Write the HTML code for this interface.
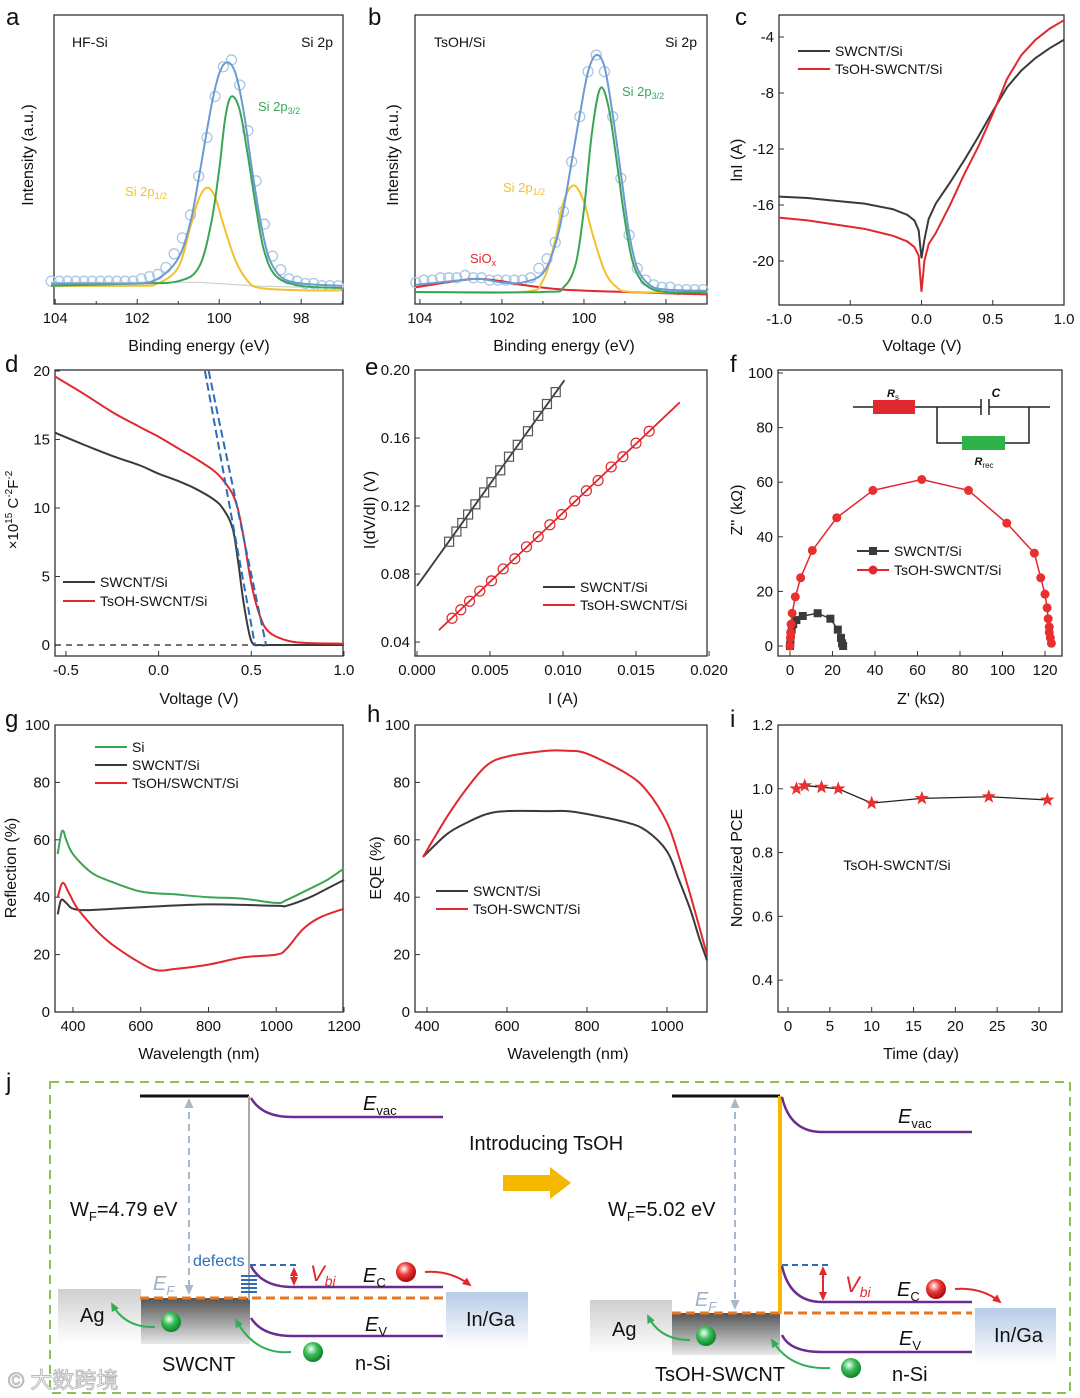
<!DOCTYPE html>
<html><head><meta charset="utf-8"><style>
body{margin:0;background:#fff}
svg{display:block;font-family:"Liberation Sans","Noto Sans CJK SC",sans-serif}
</style></head><body>
<svg id="fig" xmlns="http://www.w3.org/2000/svg" width="1080" height="1398" viewBox="0 0 1080 1398">
<defs>
<linearGradient id="agG" x1="0" y1="0" x2="0" y2="1"><stop offset="0" stop-color="#cfcfcf"/><stop offset="1" stop-color="#ffffff"/></linearGradient>
<linearGradient id="cnG" x1="0" y1="0" x2="0" y2="1"><stop offset="0" stop-color="#555"/><stop offset="1" stop-color="#e8e8e8"/></linearGradient>
<linearGradient id="igG" x1="0" y1="0" x2="0" y2="1"><stop offset="0" stop-color="#b8cce6"/><stop offset="1" stop-color="#ffffff"/></linearGradient>
<radialGradient id="rb" cx="0.4" cy="0.35" r="0.6"><stop offset="0" stop-color="#fff"/><stop offset="0.5" stop-color="#ef3b3b"/><stop offset="1" stop-color="#b01010"/></radialGradient>
<radialGradient id="gb" cx="0.4" cy="0.35" r="0.6"><stop offset="0" stop-color="#fff"/><stop offset="0.5" stop-color="#3cbf5a"/><stop offset="1" stop-color="#138a30"/></radialGradient>
<marker id="ahR" markerUnits="userSpaceOnUse" markerWidth="9" markerHeight="8" refX="7" refY="4" orient="auto"><path d="M0,0 L9,4 L0,8 z" fill="#e0282e"/></marker>
<marker id="ahRs" markerUnits="userSpaceOnUse" markerWidth="9" markerHeight="8" refX="7" refY="4" orient="auto-start-reverse"><path d="M0,0 L9,4 L0,8 z" fill="#e0282e"/></marker>
<marker id="ahG" markerUnits="userSpaceOnUse" markerWidth="9" markerHeight="8" refX="7" refY="4" orient="auto"><path d="M0,0 L9,4 L0,8 z" fill="#2fae55"/></marker>
<marker id="ahB" markerUnits="userSpaceOnUse" markerWidth="10" markerHeight="9" refX="8" refY="4.5" orient="auto-start-reverse"><path d="M0,0 L10,4.5 L0,9 z" fill="#a8b8cc"/></marker>
</defs>
<g id="charts"></g>
<g id="diagram">
<rect x="50" y="1082" width="1020" height="311" fill="none" stroke="#8cc152" stroke-width="2" stroke-dasharray="9,6"/>
<!-- left -->
<rect x="58" y="1289" width="83" height="55" fill="url(#agG)"/>
<rect x="141" y="1298" width="109" height="46" fill="url(#cnG)"/>
<rect x="446" y="1292" width="82" height="56" fill="url(#igG)"/>
<line x1="140" y1="1096" x2="249" y2="1096" stroke="#111" stroke-width="3"/>
<line x1="249" y1="1096" x2="249" y2="1300" stroke="#aaa" stroke-width="2"/>
<path d="M251,1098 Q262,1117 292,1117 L443,1117" fill="none" stroke="#6a2c91" stroke-width="2.5"/>
<path d="M251,1266 Q262,1287 292,1287 L443,1287" fill="none" stroke="#6a2c91" stroke-width="2.5"/>
<path d="M251,1318 Q262,1336 292,1336 L443,1336" fill="none" stroke="#6a2c91" stroke-width="2.5"/>
<line x1="189" y1="1100" x2="189" y2="1293" stroke="#a8b8cc" stroke-width="2" stroke-dasharray="7,5" marker-start="url(#ahB)" marker-end="url(#ahB)"/>
<line x1="140" y1="1298" x2="445" y2="1298" stroke="#e87722" stroke-width="3" stroke-dasharray="9,5"/>
<line x1="250" y1="1265" x2="296" y2="1265" stroke="#2d6db5" stroke-width="2" stroke-dasharray="6,4"/>
<g stroke="#2d6db5" stroke-width="2"><line x1="241" y1="1276" x2="257" y2="1276"/><line x1="241" y1="1280" x2="257" y2="1280"/><line x1="241" y1="1284" x2="257" y2="1284"/><line x1="241" y1="1288" x2="257" y2="1288"/><line x1="241" y1="1292" x2="257" y2="1292"/></g>
<line x1="294" y1="1269" x2="294" y2="1284" stroke="#e0282e" stroke-width="2" marker-start="url(#ahRs)" marker-end="url(#ahR)"/>
<text x="70" y="1216" font-size="20" fill="#111">W<tspan font-size="13" dy="5">F</tspan><tspan dy="-5">=4.79 eV</tspan></text>
<text x="193" y="1266" font-size="16" fill="#2d6db5">defects</text>
<text x="153" y="1290" font-size="20" font-style="italic" fill="#9fb0c8">E<tspan font-size="13" dy="5">F</tspan></text>
<text x="310" y="1281" font-size="22" font-style="italic" fill="#e0282e">V<tspan font-size="14" dy="5">bi</tspan></text>
<text x="363" y="1282" font-size="20" font-style="italic" fill="#111">E<tspan font-size="13" dy="5" font-style="normal">C</tspan></text>
<text x="363" y="1110" font-size="20" font-style="italic" fill="#111">E<tspan font-size="13" dy="5" font-style="normal">vac</tspan></text>
<text x="365" y="1331" font-size="20" font-style="italic" fill="#111">E<tspan font-size="13" dy="5" font-style="normal">V</tspan></text>
<circle cx="406" cy="1272" r="10" fill="url(#rb)"/>
<path d="M425,1272 Q450,1270 470,1285" fill="none" stroke="#e0282e" stroke-width="2" marker-end="url(#ahR)"/>
<circle cx="171" cy="1322" r="10" fill="url(#gb)"/>
<circle cx="313" cy="1352" r="10" fill="url(#gb)"/>
<path d="M155,1327 Q125,1328 112,1304" fill="none" stroke="#2fae55" stroke-width="2" marker-end="url(#ahG)"/>
<path d="M291,1352 Q255,1355 236,1320" fill="none" stroke="#2fae55" stroke-width="2" marker-end="url(#ahG)"/>
<text x="80" y="1322" font-size="20" fill="#111">Ag</text>
<text x="466" y="1326" font-size="20" fill="#111">In/Ga</text>
<text x="162" y="1371" font-size="20" fill="#111">SWCNT</text>
<text x="355" y="1370" font-size="20" fill="#111">n-Si</text>
<!-- middle -->
<text x="469" y="1150" font-size="20" fill="#111">Introducing TsOH</text>
<path d="M503,1175 L550,1175 L550,1167 L571,1183 L550,1199 L550,1191 L503,1191 z" fill="#f5b800"/>
<!-- right -->
<rect x="590" y="1300" width="82" height="55" fill="url(#agG)"/>
<rect x="672" y="1313" width="108" height="42" fill="url(#cnG)"/>
<rect x="975" y="1308" width="81" height="58" fill="url(#igG)"/>
<line x1="672" y1="1096" x2="780" y2="1096" stroke="#111" stroke-width="3"/>
<line x1="780" y1="1096" x2="780" y2="1314" stroke="#f5b800" stroke-width="4"/>
<path d="M782,1097 Q790,1132 822,1132 L972,1132" fill="none" stroke="#6a2c91" stroke-width="2.5"/>
<path d="M782,1266 Q790,1302 822,1302 L972,1302" fill="none" stroke="#6a2c91" stroke-width="2.5"/>
<path d="M782,1335 Q790,1352 822,1352 L972,1352" fill="none" stroke="#6a2c91" stroke-width="2.5"/>
<line x1="735" y1="1100" x2="735" y2="1308" stroke="#a8b8cc" stroke-width="2" stroke-dasharray="7,5" marker-start="url(#ahB)" marker-end="url(#ahB)"/>
<line x1="672" y1="1313" x2="972" y2="1313" stroke="#e87722" stroke-width="3" stroke-dasharray="9,5"/>
<line x1="782" y1="1265" x2="828" y2="1265" stroke="#2d6db5" stroke-width="2" stroke-dasharray="6,4"/>
<line x1="823" y1="1268" x2="823" y2="1299" stroke="#e0282e" stroke-width="2" marker-start="url(#ahRs)" marker-end="url(#ahR)"/>
<text x="608" y="1216" font-size="20" fill="#111">W<tspan font-size="13" dy="5">F</tspan><tspan dy="-5">=5.02 eV</tspan></text>
<text x="695" y="1306" font-size="20" font-style="italic" fill="#9fb0c8">E<tspan font-size="13" dy="5">F</tspan></text>
<text x="845" y="1292" font-size="22" font-style="italic" fill="#e0282e">V<tspan font-size="14" dy="5">bi</tspan></text>
<text x="897" y="1296" font-size="20" font-style="italic" fill="#111">E<tspan font-size="13" dy="5" font-style="normal">C</tspan></text>
<text x="898" y="1123" font-size="20" font-style="italic" fill="#111">E<tspan font-size="13" dy="5" font-style="normal">vac</tspan></text>
<text x="899" y="1345" font-size="20" font-style="italic" fill="#111">E<tspan font-size="13" dy="5" font-style="normal">V</tspan></text>
<circle cx="936" cy="1289" r="10" fill="url(#rb)"/>
<path d="M955,1289 Q982,1287 1000,1302" fill="none" stroke="#e0282e" stroke-width="2" marker-end="url(#ahR)"/>
<circle cx="706" cy="1336" r="10" fill="url(#gb)"/>
<circle cx="851" cy="1368" r="10" fill="url(#gb)"/>
<path d="M690,1340 Q660,1340 648,1316" fill="none" stroke="#2fae55" stroke-width="2" marker-end="url(#ahG)"/>
<path d="M830,1368 Q790,1370 772,1340" fill="none" stroke="#2fae55" stroke-width="2" marker-end="url(#ahG)"/>
<text x="612" y="1336" font-size="20" fill="#111">Ag</text>
<text x="994" y="1342" font-size="20" fill="#111">In/Ga</text>
<text x="655" y="1381" font-size="20" fill="#111">TsOH-SWCNT</text>
<text x="892" y="1381" font-size="20" fill="#111">n-Si</text>
<text x="8" y="1388" font-size="22" fill="#fff" stroke="#bbb" stroke-width="1">© 大数跨境</text>
</g>
</svg>
<script>
// ---------- data ----------
// panel a (XPS HF-Si), intensity in arbitrary units
const aEnvE=[104.1,103,102,101.5,101,100.7,100.5,100.2,100,99.8,99.6,99.4,99.2,99,98.8,98.5,98,97];
const aEnvI=[2,2,2,4,13,29,48,79,94,99,94,77,52,30,14,5,2,1];
const aGrnE=[104.1,102,101,100.5,100.2,100,99.85,99.7,99.5,99.3,99.1,98.9,98.6,98,97];
const aGrnI=[1,2,3,9,28,52,75,84,78,58,35,16,5,1,0];
const aYelE=[104.1,102,101.5,101,100.7,100.5,100.3,100.1,99.9,99.6,99.3,99,98,97];
const aYelI=[1,1,2,9,27,39,44,40,28,12,3,0,-1,-1];
const aDotE=[104.1,103.9,103.7,103.5,103.3,103.1,102.9,102.7,102.5,102.3,102.1,101.9,101.7,101.5,101.3,101.1,100.9,100.7,100.5,100.3,100.1,99.9,99.7,99.5,99.3,99.1,98.9,98.7,98.5,98.3,98.1,97.9,97.7,97.5,97.3,97.1];
const aDotI=[3,3,3,3,3,3,3,3,3,3,3,4,5,6,9,15,22,32,49,66,84,97,100,89,69,47,28,14,8,4,3,2,2,1,1,1];
// panel b (XPS TsOH/Si)
const bEnvE=[104.1,103,102.5,102,101.5,101,100.7,100.5,100.3,100.1,99.9,99.7,99.5,99.3,99.1,98.9,98.7,98.4,98,97];
const bEnvI=[3,5,5.5,4,4,8,20,35,55,75,93,100,95,75,50,25,10,3,1,0.5];
const bGrnE=[104.1,101,100.5,100.2,100,99.8,99.6,99.4,99.2,99,98.8,98.5,98,97];
const bGrnI=[0,0,2,12,35,68,86,78,55,30,12,3,0,0];
const bYelE=[104.1,101.5,101,100.7,100.5,100.25,100,99.8,99.5,99.2,98.8,97];
const bYelI=[0,0,5,22,38,45,38,25,9,2,0,0];
const bRedE=[104.1,103,102.5,102,101.5,100.5,99,97];
const bRedI=[2,5,5.5,4.5,3,1,0,-1];
const bDotE=[104.1,103.9,103.7,103.5,103.3,103.1,102.9,102.7,102.5,102.3,102.1,101.9,101.7,101.5,101.3,101.1,100.9,100.7,100.5,100.3,100.1,99.9,99.7,99.5,99.3,99.1,98.9,98.7,98.5,98.3,98.1,97.9,97.7,97.5,97.3,97.1];
const bDotI=[4,5,5,6,6,6,7,6,6,5,5,5,5,5,6,10,14,21,34,55,74,93,100,93,74,48,24,10,5,3,2,2,1,1,1,1];
// panel c (lnI-V)
const cV=[-1,-0.8,-0.6,-0.4,-0.2,-0.1,-0.05,-0.02,0,0.02,0.05,0.1,0.2,0.3,0.4,0.5,0.6,0.7,0.8,0.9,1.0];
const cSw=[-15.4,-15.5,-15.7,-15.9,-16.3,-16.7,-17.1,-17.8,-19.8,-18.5,-17,-15.9,-14.4,-12.8,-11.1,-9.3,-7.6,-6.4,-5.5,-4.8,-4.2];
const cTs=[-16.9,-17.1,-17.4,-17.7,-18.2,-18.6,-19,-19.6,-22.2,-20,-18.8,-18,-16,-13.8,-11.8,-9.5,-7.0,-5.3,-4.2,-3.4,-2.8];
// panel d (Mott-Schottky)
const dV=[-0.56,-0.4,-0.25,-0.1,0,0.1,0.2,0.3,0.35,0.4,0.43,0.46,0.5,0.55,0.6,0.7,0.8,1.0];
const dSw=[15.5,14.6,13.8,13.1,12.5,12.0,11.4,10.6,9.9,8.5,6,3,0.3,0,0,0,0,0];
const dTs=[19.6,18.3,17.0,15.9,15.2,14.4,13.6,12.7,12.0,11.0,9.8,7.8,4.5,2.0,0.9,0.3,0.15,0.1];
const dFitV=[[0.25,0.52],[0.27,0.58]];
const dFitY=[[20,0],[20,0]];
// panel e (I dV/dI vs I)
const eSqI=[0.0022,0.0027,0.0031,0.0035,0.0040,0.0046,0.0051,0.0057,0.0063,0.0069,0.0076,0.0083,0.0089,0.0095];
const eSqV=[0.099,0.105,0.110,0.115,0.121,0.128,0.134,0.141,0.149,0.156,0.164,0.173,0.180,0.187];
const eSqFitI=[0,0.0101], eSqFitV=[0.073,0.194];
const eCiI=[0.0024,0.0030,0.0036,0.0043,0.0051,0.0059,0.0067,0.0075,0.0083,0.0091,0.0099,0.0108,0.0116,0.0124,0.0133,0.0141,0.0150,0.0159];
const eCiV=[0.054,0.059,0.064,0.070,0.076,0.083,0.089,0.096,0.102,0.109,0.115,0.123,0.129,0.135,0.143,0.149,0.157,0.164];
const eCiFitI=[0.0015,0.0180], eCiFitV=[0.047,0.181];
// panel f (Nyquist)
const fSwX=[0,0.2,0.4,0.8,1.5,3,6,13,19,22.5,24,24.5,25];
const fSwY=[0,2,4,6,8,9.5,11,12,10,6,3,1,0];
const fTsX=[0,0.2,0.3,0.5,1,2.5,5,10.5,22,39,62,84,102,115,118,120,121,121.5,122,122,122.5,123];
const fTsY=[0,3,5,8,12,18,25,35,47,57,61,57,45,34,25,19,14,10,7,5,3,1];
// panel g (reflection)
const gSiW=[355,365,372,380,400,450,500,600,700,800,900,1000,1030,1100,1150,1200];
const gSiR=[55,62,63,60,55,49,46,42,41,40,39.5,38,39,43,46,50];
const gSwW=[355,365,380,400,450,600,800,1000,1030,1100,1150,1200];
const gSwR=[34,39,38,36,35.5,36.5,37.5,37,37,40,43,46];
const gTsW=[355,370,390,420,500,600,650,700,800,900,1000,1030,1080,1130,1200];
const gTsR=[40,45,41,35,25,17,14.5,15,16.5,19,20,22,29,33,36];
// panel h (EQE)
const hW=[390,450,500,550,600,700,750,800,900,950,1000,1030,1060,1080,1100];
const hSw=[54,62,66,69,70,70,70,69,66,63,56,46,35,26,18];
const hTs=[54,68,78,86,89,91,91,90,83,77,66,54,40,30,20];
// panel i (stability)
const iDay=[1,2,4,6,10,16,24,31];
const iPce=[1.0,1.01,1.005,1.0,0.955,0.97,0.975,0.965];

// ---------- helpers ----------
const NS='http://www.w3.org/2000/svg';
const root=document.getElementById('charts');
function el(tag,attrs,parent){const e=document.createElementNS(NS,tag);for(const k in attrs)e.setAttribute(k,attrs[k]);(parent||root).appendChild(e);return e;}
function txt(x,y,s,size,parent,anchor,fill){const t=el('text',{x:x,y:y,'font-size':size,'text-anchor':anchor||'middle',fill:fill||'#111'},parent);t.textContent=s;return t;}
function axes(p){
  p.sx=v=>p.x0+(v-p.xmin)/(p.xmax-p.xmin)*(p.x1-p.x0);
  p.sy=v=>p.y1-(v-p.ymin)/(p.ymax-p.ymin)*(p.y1-p.y0);
  const g=el('g',{});
  
  
  const fr=el('rect',{x:p.x0,y:p.y0,width:p.x1-p.x0,height:p.y1-p.y0,fill:'none',stroke:'#333','stroke-width':1.3},g);
  
  
  (p.xt||[]).forEach((v,i)=>{const x=p.sx(v);el('line',{x1:x,x2:x,y1:p.y1,y2:p.y1-5,stroke:'#333'},g);
    const t=txt(x,p.y1+19,p.xl[i],15,g);});
  (p.xm||[]).forEach(v=>{const x=p.sx(v);el('line',{x1:x,x2:x,y1:p.y1,y2:p.y1-3,stroke:'#333'},g);});
  (p.yt||[]).forEach((v,i)=>{const y=p.sy(v);el('line',{x1:p.x0,x2:p.x0+5,y1:y,y2:y,stroke:'#333'},g);
    const t=txt(p.x0-5,y+5,p.yl[i],15,g,'end');});
  return p;
}
function cr(px,py){ // catmull-rom path
  let d='M'+px[0].toFixed(1)+','+py[0].toFixed(1);
  for(let i=0;i<px.length-1;i++){const i0=Math.max(0,i-1),i3=Math.min(px.length-1,i+2);
    const c1x=px[i]+(px[i+1]-px[i0])/6,c1y=py[i]+(py[i+1]-py[i0])/6,c2x=px[i+1]-(px[i3]-px[i])/6,c2y=py[i+1]-(py[i3]-py[i])/6;
    d+=' C'+c1x.toFixed(1)+','+c1y.toFixed(1)+' '+c2x.toFixed(1)+','+c2y.toFixed(1)+' '+px[i+1].toFixed(1)+','+py[i+1].toFixed(1);}
  return d;}
function curve(p,xs,ys,color,w,name,dash){const e=el('path',{d:cr(xs.map(p.sx),ys.map(p.sy)),fill:'none',stroke:color,'stroke-width':w||2});
  if(dash)e.setAttribute('stroke-dasharray',dash);
  
  return e;}
function poly(p,xs,ys,color,w,name,dash){const e=el('polyline',{points:xs.map((x,i)=>p.sx(x)+','+p.sy(ys[i])).join(' '),fill:'none',stroke:color,'stroke-width':w||1.5});
  if(dash)e.setAttribute('stroke-dasharray',dash);
  
  return e;}
function label(x,y,s,size,name,rot,anchor,fill){const t=txt(x,y,s,size,root,anchor,fill);if(rot)t.setAttribute('transform','rotate(-90 '+x+' '+y+')');
  
  return t;}
function legendLine(x,y,color,s,name,marker){const g=el('g',{});
  
  
  el('line',{x1:x,x2:x+32,y1:y,y2:y,stroke:color,'stroke-width':2},g);
  if(marker==='sq')el('rect',{x:x+12,y:y-4,width:8,height:8,fill:color},g);
  if(marker==='ci')el('circle',{cx:x+16,cy:y,r:4.5,fill:color},g);
  txt(x+37,y+5,s,14,g,'start');}

// panel letters
[['a',6,25],['b',368,25],['c',735,25],['d',5,372],['e',365,375],['f',730,372],['g',5,727],['h',367,722],['i',730,727],['j',6,1090]].forEach(l=>{
  const t=label(l[1],l[2],l[0],24,'panel-letter-'+l[0],false,'start');});

// ---------- panel a ----------
const pa=axes({name:'panel-a',x0:54,x1:343,y0:15,y1:304,xmin:104.03,xmax:96.98,ymin:-7,ymax:119.7,xt:[104,102,100,98],xl:['104','102','100','98'],xm:[103,101,99,97]});
poly(pa,[104.1,102,100.5,99,97],[2.5,2.5,2.5,0.8,0],'#cfcfcf',1.2,'panel-a-background');
const ga=el('g',{});
aDotE.forEach((e,i)=>{el('circle',{cx:pa.sx(e),cy:pa.sy(aDotI[i]),r:5,fill:'none',stroke:'#a9c8e6','stroke-width':1.3},ga);});
curve(pa,aYelE,aYelI,'#f2c12e',2,'panel-a-si2p12-fit');
curve(pa,aGrnE,aGrnI,'#3aa655',2,'panel-a-si2p32-fit');
curve(pa,aEnvE,aEnvI,'#6c9bd2',2,'panel-a-envelope-fit');
label(72,47,'HF-Si',14,'panel-a-sample-label',false,'start');
label(333,47,'Si 2p',14,'panel-a-region-label',false,'end');
const ta1=label(258,111,'Si 2p',13,'panel-a-si2p32-label',false,'start','#3aa655');ta1.innerHTML='Si 2p<tspan font-size="9" dy="3">3/2</tspan>';
const ta2=label(125,196,'Si 2p',13,'panel-a-si2p12-label',false,'start','#f2c12e');ta2.innerHTML='Si 2p<tspan font-size="9" dy="3">1/2</tspan>';
label(33,155,'Intensity (a.u.)',16,'panel-a-y-axis-title',true);
label(199,351,'Binding energy (eV)',16,'panel-a-x-axis-title');

// ---------- panel b ----------
const pb=axes({name:'panel-b',x0:415,x1:707,y0:15,y1:304,xmin:104.12,xmax:97.0,ymin:-5.06,ymax:116.9,xt:[104,102,100,98],xl:['104','102','100','98'],xm:[103,101,99,97]});
const gb=el('g',{});
bDotE.forEach((e,i)=>{el('circle',{cx:pb.sx(e),cy:pb.sy(bDotI[i]),r:5,fill:'none',stroke:'#a9c8e6','stroke-width':1.3},gb);});
curve(pb,bRedE,bRedI,'#e0282e',2,'panel-b-siox-fit');
curve(pb,bYelE,bYelI,'#f2c12e',2,'panel-b-si2p12-fit');
curve(pb,bGrnE,bGrnI,'#3aa655',2,'panel-b-si2p32-fit');
curve(pb,bEnvE,bEnvI,'#6c9bd2',2,'panel-b-envelope-fit');
label(434,47,'TsOH/Si',14,'panel-b-sample-label',false,'start');
label(697,47,'Si 2p',14,'panel-b-region-label',false,'end');
const tb1=label(622,96,'',13,'panel-b-si2p32-label',false,'start','#3aa655');tb1.innerHTML='Si 2p<tspan font-size="9" dy="3">3/2</tspan>';
const tb2=label(503,192,'',13,'panel-b-si2p12-label',false,'start','#f2c12e');tb2.innerHTML='Si 2p<tspan font-size="9" dy="3">1/2</tspan>';
const tb3=label(470,263,'',13,'panel-b-siox-label',false,'start','#e0282e');tb3.innerHTML='SiO<tspan font-size="9" dy="3">x</tspan>';
label(398,155,'Intensity (a.u.)',16,'panel-b-y-axis-title',true);
label(564,351,'Binding energy (eV)',16,'panel-b-x-axis-title');

// ---------- panel c ----------
const pc=axes({name:'panel-c',x0:779,x1:1064,y0:15,y1:305,xmin:-1,xmax:1,ymin:-23.14,ymax:-2.43,xt:[-1,-0.5,0,0.5,1],xl:['-1.0','-0.5','0.0','0.5','1.0'],yt:[-4,-8,-12,-16,-20],yl:['-4','-8','-12','-16','-20']});
poly(pc,cV,cSw,'#3a3a3a',2,'panel-c-swcnt-si-curve');
poly(pc,cV,cTs,'#e0282e',2,'panel-c-tsoh-swcnt-si-curve');
legendLine(798,51,'#3a3a3a','SWCNT/Si','panel-c-legend-swcnt-si');
legendLine(798,69,'#e0282e','TsOH-SWCNT/Si','panel-c-legend-tsoh-swcnt-si');
label(742,160,'lnI (A)',16,'panel-c-y-axis-title',true);
label(922,351,'Voltage (V)',16,'panel-c-x-axis-title');

// ---------- panel d ----------
const pd=axes({name:'panel-d',x0:55,x1:343,y0:370,y1:656,xmin:-0.559,xmax:0.995,ymin:-0.8,ymax:20.07,xt:[-0.5,0,0.5,1],xl:['-0.5','0.0','0.5','1.0'],yt:[0,5,10,15,20],yl:['0','5','10','15','20']});
poly(pd,[-0.559,0.995],[0,0],'#222',1.3,'panel-d-zero-line','6,5');
curve(pd,dV,dSw,'#3a3a3a',2,'panel-d-swcnt-si-curve');
curve(pd,dV,dTs,'#e0282e',2,'panel-d-tsoh-swcnt-si-curve');
dFitV.forEach((v,i)=>poly(pd,v,dFitY[i],'#2d6db5',2,'panel-d-linear-fit-'+(i+1),'8,4'));
legendLine(63,582,'#3a3a3a','SWCNT/Si','panel-d-legend-swcnt-si');
legendLine(63,601,'#e0282e','TsOH-SWCNT/Si','panel-d-legend-tsoh-swcnt-si');
const td=label(18,510,'',15,'panel-d-y-axis-title',true);td.innerHTML='×10<tspan font-size="10" dy="-6">15</tspan><tspan dy="6"> C</tspan><tspan font-size="10" dy="-6">-2</tspan><tspan dy="6">F</tspan><tspan font-size="10" dy="-6">-2</tspan>';
label(199,704,'Voltage (V)',16,'panel-d-x-axis-title');

// ---------- panel e ----------
const pe=axes({name:'panel-e',x0:415,x1:707,y0:370,y1:656,xmin:-0.000137,xmax:0.01986,ymin:0.0318,ymax:0.2,xt:[0,0.005,0.01,0.015,0.02],xl:['0.000','0.005','0.010','0.015','0.020'],yt:[0.04,0.08,0.12,0.16,0.2],yl:['0.04','0.08','0.12','0.16','0.20']});
poly(pe,eSqFitI,eSqFitV,'#3a3a3a',1.8,'panel-e-swcnt-fit-line');
poly(pe,eCiFitI,eCiFitV,'#e0282e',1.8,'panel-e-tsoh-fit-line');
const ge1=el('g',{});
eSqI.forEach((v,i)=>el('rect',{x:pe.sx(v)-4.5,y:pe.sy(eSqV[i])-4.5,width:9,height:9,fill:'none',stroke:'#555','stroke-width':1.2},ge1));
const ge2=el('g',{});
eCiI.forEach((v,i)=>el('circle',{cx:pe.sx(v),cy:pe.sy(eCiV[i]),r:5,fill:'none',stroke:'#e0282e','stroke-width':1.2},ge2));
legendLine(543,587,'#3a3a3a','SWCNT/Si','panel-e-legend-swcnt-si');
legendLine(543,605,'#e0282e','TsOH-SWCNT/Si','panel-e-legend-tsoh-swcnt-si');
label(375,510,'I(dV/dI) (V)',16,'panel-e-y-axis-title',true);
label(563,704,'I (A)',16,'panel-e-x-axis-title');

// ---------- panel f ----------
const pf=axes({name:'panel-f',x0:778,x1:1062,y0:370,y1:656,xmin:-5.65,xmax:128,ymin:-3.66,ymax:101.1,xt:[0,20,40,60,80,100,120],xl:['0','20','40','60','80','100','120'],yt:[0,20,40,60,80,100],yl:['0','20','40','60','80','100']});
poly(pf,fSwX,fSwY,'#3a3a3a',1.5,'panel-f-swcnt-line');
poly(pf,fTsX,fTsY,'#e0282e',1.5,'panel-f-tsoh-line');
const gf1=el('g',{});
fSwX.forEach((v,i)=>el('rect',{x:pf.sx(v)-4,y:pf.sy(fSwY[i])-4,width:8,height:8,fill:'#3a3a3a'},gf1));
const gf2=el('g',{});
fTsX.forEach((v,i)=>el('circle',{cx:pf.sx(v),cy:pf.sy(fTsY[i]),r:4.5,fill:'#e8302f'},gf2));
legendLine(857,551,'#3a3a3a','SWCNT/Si','panel-f-legend-swcnt-si','sq');
legendLine(857,570,'#e0282e','TsOH-SWCNT/Si','panel-f-legend-tsoh-swcnt-si','ci');
const gc=el('g',{});
el('path',{d:'M853,407 L981,407 M989,407 L1050,407 M937,407 L937,443 L962,443 M1005,443 L1029,443 L1029,407 M981,399 L981,415 M989,399 L989,415',fill:'none',stroke:'#222','stroke-width':1.5},gc);
el('rect',{x:873,y:400,width:42,height:14,fill:'#e0282e'},gc);
el('rect',{x:962,y:436,width:43,height:14,fill:'#2fb24a'},gc);
const rs=txt(893,397,'',11,gc);rs.innerHTML='<tspan font-style="italic" font-weight="bold">R</tspan><tspan font-size="8" dy="3">s</tspan>';
const cc=txt(996,397,'C',12,gc);cc.setAttribute('font-style','italic');cc.setAttribute('font-weight','bold');
const rr=txt(984,465,'',11,gc);rr.innerHTML='<tspan font-style="italic" font-weight="bold">R</tspan><tspan font-size="8" dy="3">rec</tspan>';
label(742,510,"Z'' (kΩ)",16,'panel-f-y-axis-title',true);
label(921,704,"Z' (kΩ)",16,'panel-f-x-axis-title');

// ---------- panel g ----------
const pg=axes({name:'panel-g',x0:55,x1:343,y0:725,y1:1012,xmin:347,xmax:1197,ymin:0,ymax:100,xt:[400,600,800,1000,1200],xl:['400','600','800','1000','1200'],yt:[0,20,40,60,80,100],yl:['0','20','40','60','80','100']});
curve(pg,gSiW,gSiR,'#3aa655',2,'panel-g-si-curve');
curve(pg,gSwW,gSwR,'#3a3a3a',2,'panel-g-swcnt-si-curve');
curve(pg,gTsW,gTsR,'#e0282e',2,'panel-g-tsoh-swcnt-si-curve');
legendLine(95,747,'#3aa655','Si','panel-g-legend-si');
legendLine(95,765,'#3a3a3a','SWCNT/Si','panel-g-legend-swcnt-si');
legendLine(95,783,'#e0282e','TsOH/SWCNT/Si','panel-g-legend-tsoh-swcnt-si');
label(16,868,'Reflection (%)',16,'panel-g-y-axis-title',true);
label(199,1059,'Wavelength (nm)',16,'panel-g-x-axis-title');

// ---------- panel h ----------
const ph=axes({name:'panel-h',x0:415,x1:707,y0:725,y1:1012,xmin:370,xmax:1100,ymin:0,ymax:100,xt:[400,600,800,1000],xl:['400','600','800','1000'],yt:[0,20,40,60,80,100],yl:['0','20','40','60','80','100']});
curve(ph,hW,hSw,'#3a3a3a',2,'panel-h-swcnt-si-curve');
curve(ph,hW,hTs,'#e0282e',2,'panel-h-tsoh-swcnt-si-curve');
legendLine(436,891,'#3a3a3a','SWCNT/Si','panel-h-legend-swcnt-si');
legendLine(436,909,'#e0282e','TsOH-SWCNT/Si','panel-h-legend-tsoh-swcnt-si');
label(381,868,'EQE (%)',16,'panel-h-y-axis-title',true);
label(568,1059,'Wavelength (nm)',16,'panel-h-x-axis-title');

// ---------- panel i ----------
const pi=axes({name:'panel-i',x0:778,x1:1062,y0:725,y1:1012,xmin:-1.2,xmax:32.75,ymin:0.3,ymax:1.2,xt:[0,5,10,15,20,25,30],xl:['0','5','10','15','20','25','30'],yt:[0.4,0.6,0.8,1.0,1.2],yl:['0.4','0.6','0.8','1.0','1.2']});
poly(pi,iDay,iPce,'#222',1.3,'panel-i-pce-line');
const gi=el('g',{});
iDay.forEach((d,k)=>{const cx=pi.sx(d),cy=pi.sy(iPce[k]);let pts=[];for(let j=0;j<10;j++){const r=j%2?3:7.5,a=-Math.PI/2+j*Math.PI/5;pts.push((cx+r*Math.cos(a)).toFixed(1)+','+(cy+r*Math.sin(a)).toFixed(1));}
  el('polygon',{points:pts.join(' '),fill:'#e8302f'},gi);});
label(897,870,'TsOH-SWCNT/Si',14,'panel-i-series-label');
label(742,868,'Normalized PCE',16,'panel-i-y-axis-title',true);
label(921,1059,'Time (day)',16,'panel-i-x-axis-title');
</script>
</body></html>
